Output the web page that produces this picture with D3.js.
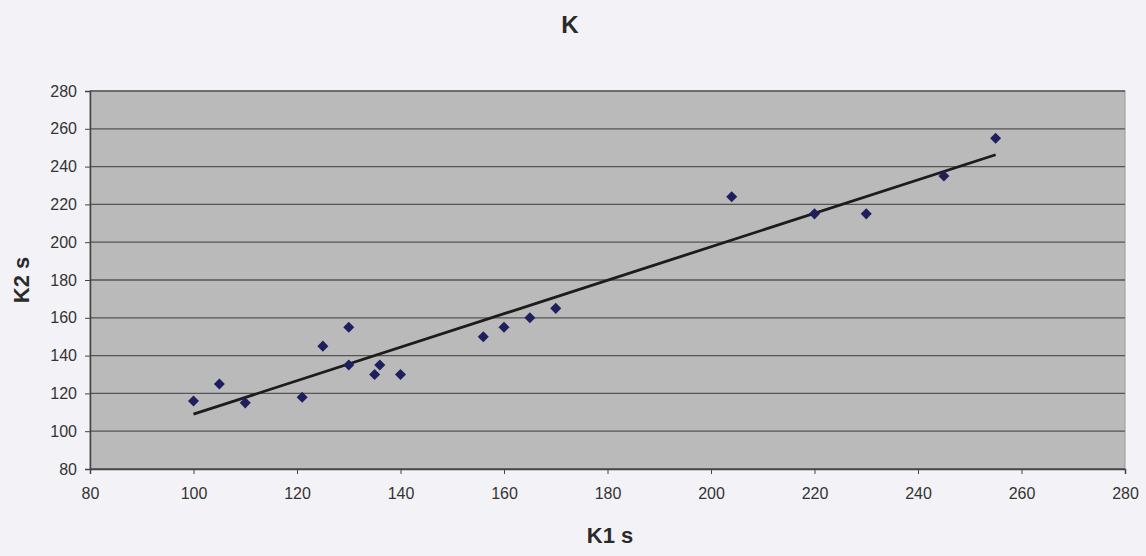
<!DOCTYPE html>
<html>
<head>
<meta charset="utf-8">
<script src="https://cdn.jsdelivr.net/npm/d3@7"></script>
<style>
  body { margin: 0; background: #f3f3f7; }
  svg { display: block; font-family: "Liberation Sans", Arial, sans-serif; }
</style>
</head>
<body>
<svg id="chart" width="1146" height="556"></svg>
<script>
// K1 s / K2 s readings
var k1 = [100, 105, 110, 121, 125, 130, 130, 135, 136, 140, 156, 160, 165, 170, 204, 220, 230, 245, 255];
var k2 = [116, 125, 115, 118, 145, 155, 135, 130, 135, 130, 150, 155, 160, 165, 224, 215, 215, 235, 255];
var xTicks = [80, 100, 120, 140, 160, 180, 200, 220, 240, 260, 280];
var yTicks = [80, 100, 120, 140, 160, 180, 200, 220, 240, 260, 280];

var svg = d3.select("#chart");
var plotL = 90, plotR = 1125, plotT = 91, plotB = 469;

var x = d3.scaleLinear().domain([80, 280]).range([plotL, plotR]);
var y = d3.scaleLinear().domain([80, 280]).range([plotB, plotT]);

// plot area
svg.append("rect")
    .attr("x", plotL).attr("y", plotT)
    .attr("width", plotR - plotL).attr("height", plotB - plotT)
    .attr("fill", "#bababa")
    .attr("stroke", "#9a9a9a");

// gridlines
svg.append("g").selectAll("line")
    .data(yTicks)
    .join("line")
    .attr("x1", plotL).attr("x2", plotR)
    .attr("y1", d => y(d)).attr("y2", d => y(d))
    .attr("stroke", "#555")
    .attr("stroke-width", 1.3);

// axes
var xAxis = svg.append("g")
    .attr("transform", "translate(0," + plotB + ")")
    .call(d3.axisBottom(x).tickValues(xTicks).tickSize(5).tickPadding(14));
var yAxis = svg.append("g")
    .attr("transform", "translate(" + plotL + ",0)")
    .call(d3.axisLeft(y).tickValues(yTicks).tickSize(5).tickPadding(8));

[xAxis, yAxis].forEach(function (g) {
    g.attr("font-size", 16).attr("font-family", null);
    g.select(".domain").attr("stroke", "#444").attr("stroke-width", 1.5);
    g.selectAll(".tick line").attr("stroke", "#444");
    g.selectAll(".tick text").attr("fill", "#333");
});

// linear trendline
var mx = d3.mean(k1), my = d3.mean(k2);
var slope = d3.sum(k1, (d, i) => (d - mx) * (k2[i] - my)) / d3.sum(k1, d => (d - mx) * (d - mx));
var icpt = my - slope * mx;
var ext = d3.extent(k1);

svg.append("line")
    .attr("x1", x(ext[0])).attr("y1", y(icpt + slope * ext[0]))
    .attr("x2", x(ext[1])).attr("y2", y(icpt + slope * ext[1]))
    .attr("stroke", "#1c1c1c")
    .attr("stroke-width", 2.8);

// points
svg.append("g").selectAll("path")
    .data(k1)
    .join("path")
    .attr("d", d3.symbol(d3.symbolDiamond2, 78))
    .attr("transform", (d, i) => "translate(" + x(d) + "," + y(k2[i]) + ")")
    .attr("fill", "#1f1f5e");

// titles
svg.append("text")
    .attr("x", 570).attr("y", 33)
    .attr("text-anchor", "middle")
    .style("font-size", "24px").style("font-weight", "bold")
    .attr("fill", "#2a2a2a")
    .text("K");

svg.append("text")
    .attr("x", 610).attr("y", 543)
    .attr("text-anchor", "middle")
    .style("font-size", "22px").style("font-weight", "bold")
    .attr("fill", "#2a2a2a")
    .text("K1 s");

svg.append("text")
    .attr("transform", "translate(29,280) rotate(-90)")
    .attr("text-anchor", "middle")
    .style("font-size", "22px").style("font-weight", "bold")
    .attr("fill", "#2a2a2a")
    .text("K2 s");
</script>
</body>
</html>
